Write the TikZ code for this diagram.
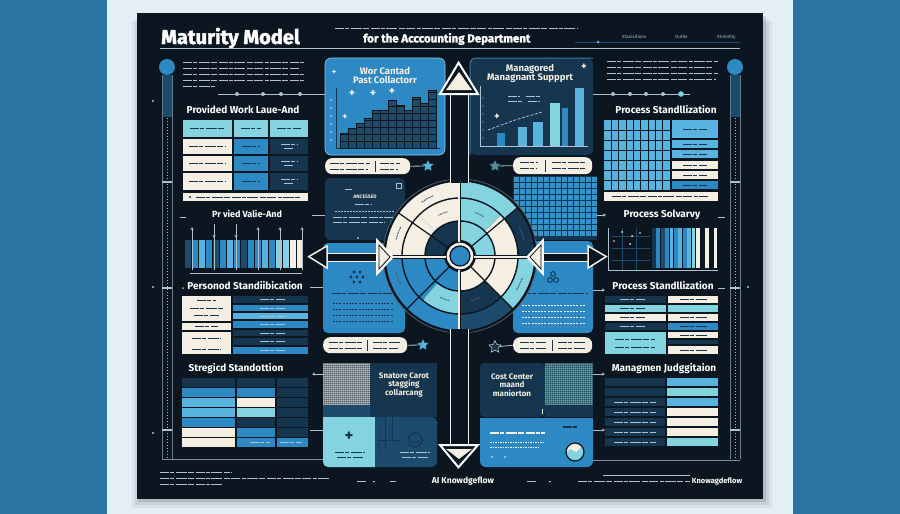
\documentclass[tikz,border=0pt]{standalone}
\usepackage{fontspec}
\setmainfont{Poppins}
\newfontfamily\hfont{Fira Sans}
\newfontfamily\tfont{Fira Sans}[FakeBold=2]
\usetikzlibrary{shapes.geometric,arrows.meta}
\definecolor{sideblue}{HTML}{2B73A1}
\definecolor{pale}{HTML}{E3EEF7}
\definecolor{ink}{HTML}{0B1621}
\definecolor{navy}{HTML}{16354F}
\definecolor{deep}{HTML}{1D4B6E}
\definecolor{mid}{HTML}{2D89C3}
\definecolor{sky}{HTML}{58B4DF}
\definecolor{teal}{HTML}{84D4DF}
\definecolor{cream}{HTML}{F4EFE2}
\definecolor{gibc}{HTML}{AFC0CE}
\definecolor{mesh}{HTML}{8E989C}
\definecolor{meshb}{HTML}{3F7C8C}
\newcommand\ringseg[5]{\fill[#5] (#1:#3) arc[start angle=#1, end angle=#2, radius=#3] -- (#2:#4) arc[start angle=#2, end angle=#1, radius=#4] -- cycle;}
\tikzset{
  gib/.style={line width=1.1pt, draw=gibc, dash pattern=on 9pt off 1.4pt on 4pt off 1.4pt on 11pt off 1.4pt on 6pt off 1.4pt},
  gibd/.style={gib, draw=navy},
  head/.style={text=white, font=\hfont\bfseries\fontsize{10}{11}\selectfont, inner sep=0pt},
  boxt/.style={text=cream, font=\hfont\bfseries\fontsize{9.5}{10}\selectfont, align=center, inner sep=0pt},
  tiny/.style={text=gibc, font=\hfont\fontsize{4.5}{5}\selectfont, inner sep=0pt},
  starn/.style={star, star points=5, star point ratio=2.1, minimum size=13pt, inner sep=0pt, draw=ink, line width=0.4pt},
  conn/.style={draw=gibc, line width=0.8pt},
  arr/.style={conn, -{Stealth[length=3pt,width=3pt]}},
  gridl/.style={draw=ink, line width=0.9pt},
}
\begin{document}
\begin{tikzpicture}[x=1pt,y=-1pt]
\useasboundingbox (0,0) rectangle (900,514);
% ---------- background ----------
\fill[pale] (0,0) rectangle (900,514);
\fill[sideblue] (0,0) rectangle (107,514);
\fill[sideblue] (793,0) rectangle (900,514);
\foreach \o/\op in {9/0.05,6/0.07,3/0.1}{
  \fill[black, opacity=\op] (141-\o,13+\o) rectangle (763+\o,499+\o);
}
\fill[ink] (137,13) rectangle (763,499);

% ---------- header ----------
\node[anchor=base west, text=white, font=\tfont\bfseries\fontsize{20}{22}\selectfont, inner sep=0pt] (title) at (161,44) {Maturity Model};
\draw[gibc, line width=0.7pt] (160,48) -- (740,48);
\draw[gib, line width=0.7pt] (335,28) -- (577,28);
\node[anchor=west, text=white, font=\tfont\bfseries\fontsize{11.5}{13}\selectfont, inner sep=0pt] (subtitle) at (363,39) {for the Acccounting Department};
\draw[deep, line width=0.8pt] (575,42) -- (740,42);
\fill[sky] (598,42) circle (1.5);
\node[tiny, anchor=west] (lab1) at (622,37) {Stanisitions};
\node[tiny, anchor=west] (lab2) at (675,37) {Outlie};
\node[tiny, anchor=west] (lab3) at (717,37) {Stirenfity};

% ---------- side tracks ----------
\foreach \tx in {167,735}{
  \fill[mid] (\tx,67) circle (8);
  \fill[deep] (\tx-5,75) rectangle (\tx+5,117);
  \draw[gibc!60!ink, line width=0.6pt] (\tx-5,75) -- (\tx-5,459) (\tx+5,75) -- (\tx+5,459);
  \draw[gibc, line width=0.6pt, dash pattern=on 0.8pt off 2.2pt] (\tx,118) -- (\tx,459);
  \foreach \dy in {182,288,430}{\draw[gibc, line width=1.6pt] (\tx-5,\dy) -- (\tx+5,\dy);}
}
\draw[gibc!70!ink, line width=0.7pt] (162,459) -- (323,459);
\draw[gibc!70!ink, line width=0.7pt] (593,460) -- (740,460);
\foreach \p in {(153,101),(153,287),(153,433),(748,287)}{\fill[gibc] \p circle (1.1);}

% ---------- left column ----------
\foreach \y/\xe in {62/305,68/300,74/305,80/305,86/215}{\draw[gib, line width=0.8pt] (183,\y) -- (\xe,\y);}
\coordinate (tlA) at (218,94);
\coordinate (tlB) at (325,94);
\draw[conn] (tlA) -- (tlB);
\foreach \xx in {237,263,281,300}{\fill[gibc] (\xx,94) circle (2);}
\node[head] (h1) at (243,110) {Provided Work Laue-And};
\foreach \xa/\xb in {183/232,234/268,270/308}{
  \fill[teal] (\xa,120) rectangle (\xb,137);
  \draw[gibd, line width=0.9pt] (\xa+7,128.5) -- (\xb-7,128.5);
}
\foreach \ya/\yb/\ym in {139/154/146.5,156/171/163.5,173/190/181.5}{
  \fill[cream] (183,\ya) rectangle (232,\yb);
  \fill[mid] (234,\ya) rectangle (268,\yb);
  \fill[navy] (270,\ya) rectangle (308,\yb);
  \draw[gibd, line width=0.9pt] (189,\ym) -- (226,\ym);
  \draw[gibd, line width=0.9pt] (242,\ym) -- (260,\ym);
  \draw[gib, line width=0.7pt] (281,\ym-2) -- (297,\ym-2) (284,\ym+2) -- (294,\ym+2);
}
\fill[cream] (183,193) rectangle (308,201);
\fill[navy] (190,197) circle (1.2);
\draw[gibd, line width=0.6pt] (196,197) -- (300,197);

\draw[gibc, line width=0.9pt] (180,217) -- (186,217);
\node[head, font=\hfont\bfseries\fontsize{9}{10}\selectfont] (h2) at (247,214) {Pr vied Valie-And};
\foreach \c [count=\i from 0] in {deep,mid,sky,mid,deep,mid,sky,mid,deep,mid,mid,sky,mid,teal,teal,cream,cream}{
  \fill[\c] (185+7*\i,240) rectangle (190.5+7*\i,268);
}
\foreach \xx in {192,258,280,302}{\draw[arr] (\xx,270) -- (\xx,227);}
\foreach \xx in {214,236}{\draw[conn] (\xx,224) -- (\xx,270); \draw[arr] (\xx,224) -- (\xx,238);}
\draw[conn] (190,273) -- (302,273);

\fill[gibc] (183,288) circle (1);
\node[head] (h3) at (245,286) {Personod Standiibication};
\fill[cream] (182,296) rectangle (231,321);
\fill[cream] (182,323) rectangle (231,330);
\fill[cream] (182,332) rectangle (231,354);
\foreach \y/\a/\b in {300/197/216, 308/190/223, 315/194/219, 326/195/218, 338/192/221, 349/192/221}{\draw[gibd, line width=0.9pt] (\a,\y) -- (\b,\y);}
\foreach \ya/\yb/\ym/\c in {296/303/299.5/navy, 305/311/308/mid, 313/319/316/sky, 321/328/324.5/mid, 330/336/333/navy, 338/345/341.5/navy, 347/354/350.5/mid}{
  \fill[\c] (233,\ya) rectangle (308,\yb);
  \draw[gib, line width=0.7pt] (260,\ym) -- (285,\ym);
}

\node[head] (h4) at (236,369) {Stregicd Standottion};
\foreach \ya/\yb/\ca/\cb/\cc in {378/386.5/navy/navy/navy, 388/396.5/mid/mid/navy, 398/406.5/sky/cream/navy, 408/416.5/sky/teal/navy, 418/426.5/mid/navy/navy, 428/436.5/cream/mid/navy, 438/447/cream/mid/mid}{
  \fill[\ca] (182,\ya) rectangle (235,\yb);
  \fill[\cb] (237,\ya) rectangle (275,\yb);
  \fill[\cc] (277,\ya) rectangle (308,\yb);
}
\draw[gib, line width=0.7pt] (250,442.5) -- (270,442.5) (280,442.5) -- (302,442.5);

% connectors left tables -> centre boxes
\coordinate (lcA1) at (310,287); \coordinate (lcB1) at (323,287);
\coordinate (lcA2) at (323,374); \coordinate (lcB2) at (312,374);
\coordinate (lcA3) at (310,430); \coordinate (lcB3) at (323,430);
\coordinate (lcA4) at (312,215); \coordinate (lcB4) at (325,215);
\draw[conn] (lcA1) -- (lcB1);
\draw[arr] (lcA2) -- (lcB2);
\draw[conn] (lcA3) -- (lcB3);
\draw[conn] (lcA4) -- (lcB4);

% ---------- right column ----------
\foreach \y/\xe in {61/718,67/712,73/718,79/716}{\draw[gib, line width=0.8pt] (607,\y) -- (\xe,\y);}
\coordinate (trA) at (593,94);
\coordinate (trB) at (690,94);
\draw[conn] (trA) -- (trB);
\foreach \xx in {613,630,646,663}{\fill[gibc] (\xx,94) circle (2);}
\fill[teal] (681,94) circle (2.8);
\node[head] (h5) at (666,110) {Process Standllization};
\fill[sky] (604,120) rectangle (670,190);
\foreach \i in {1,...,8}{\draw[gridl] (604+7.33*\i,120) -- (604+7.33*\i,190);}
\foreach \j in {1,...,6}{\draw[gridl] (604,120+10*\j) -- (670,120+10*\j);}
\foreach \ya/\yb/\ym/\c in {120/138/129/sky, 140/148/144/sky, 150/158/154/sky, 161/169/165/cream, 171/179/175/cream, 181/189/185/mid}{
  \fill[\c] (672,\ya) rectangle (718,\yb);
  \draw[gibd, line width=0.8pt] (683,\ym) -- (707,\ym);
}
\fill[cream] (604,192) rectangle (718,201);
\draw[gibd, line width=0.6pt] (612,196.5) -- (708,196.5);

\node[head] (h6) at (662,215) {Process Solvarvy};
\draw[gibc, line width=0.9pt] (718,217) -- (725,217);
\draw[deep, line width=0.4pt] (612,236) -- (650,236) (612,248) -- (650,248) (612,260) -- (650,260) (622,228) -- (622,270) (636,228) -- (636,270);
\draw[gibc, line width=0.6pt] (608,228) -- (608,270) -- (718,270);
\fill[cream] (622,232) circle (1) (632,236) circle (1) (630,244) circle (1) (614,241) circle (0.8) (640,233) circle (0.8);
\foreach \c [count=\i from 0] in {navy,mid,deep,mid,sky,mid,sky,mid,sky,teal,cream,ink,cream,ink,cream}{
  \fill[\c] (652+4.4*\i,228) rectangle (655.8+4.4*\i,268);
}

\node[head] (h7) at (663,286) {Process Standllization};
\draw[gibc, line width=0.9pt] (718,288) -- (725,288);
\fill[navy] (605,296) rectangle (666,303); \fill[cream] (668,296) rectangle (718,303);
\fill[teal] (605,305) rectangle (666,312); \fill[teal] (668,305) rectangle (718,312);
\fill[cream] (605,314) rectangle (666,321); \fill[cream] (668,314) rectangle (718,321);
\fill[navy] (605,323) rectangle (666,330); \fill[mid] (668,323) rectangle (718,330);
\fill[teal] (605,332) rectangle (666,354);
\fill[cream] (668,332) rectangle (718,338); \fill[navy] (668,340) rectangle (718,344); \fill[cream] (668,346) rectangle (718,354);
\draw[gib, line width=0.7pt] (620,299.5) -- (645,299.5) (620,326.5) -- (645,326.5);
\draw[gibd, line width=0.7pt] (620,308.5) -- (645,308.5) (620,317.5) -- (645,317.5) (615,339) -- (655,339) (615,347) -- (655,347)
  (680,299.5) -- (708,299.5) (680,317.5) -- (708,317.5) (680,326.5) -- (708,326.5) (680,335) -- (708,335) (680,350) -- (708,350);

\node[head] (h8) at (664,369) {Managmen Judggitaion};
\foreach \ya/\yb/\c in {378/386/sky, 388/396/teal, 398/406/sky, 408/416/cream, 418/426/cream, 428/436/cream, 438/446/teal}{
  \fill[navy] (605,\ya) rectangle (665,\yb);
  \fill[\c] (667,\ya) rectangle (718,\yb);
}
\foreach \ym in {402,412,422,432,442}{\draw[gib, line width=0.8pt] (614,\ym) -- (656,\ym);}

% connectors centre boxes -> right tables
\coordinate (rcA1) at (593,290); \coordinate (rcB1) at (605,290);
\coordinate (rcA2) at (593,374); \coordinate (rcB2) at (605,374);
\coordinate (rcA3) at (593,430); \coordinate (rcB3) at (605,430);
\coordinate (rcA4) at (597,215); \coordinate (rcB4) at (606,215);
\draw[arr] (rcA1) -- (rcB1);
\draw[arr] (rcA2) -- (rcB2);
\draw[arr] (rcA3) -- (rcB3);
\draw[arr] (rcA4) -- (rcB4);

% ---------- centre-left boxes ----------
\fill[mid, rounded corners=6pt] (325,58) rectangle (445,155);
\draw[sky!70!white, line width=0.6pt, rounded corners=6pt] (325,58) rectangle (445,155);
\node[boxt] (b1t) at (385,75) {Wor Cantad\\[-1pt]Past Collactorr};
\draw[navy, line width=0.8pt] (336,88) -- (336,148) -- (440,148);
\foreach \yy in {100,108,...,140}{\fill[cream] (331,\yy) circle (0.8);}
\foreach \xa/\h in {340/133, 348/128, 356/123, 364/118, 372/110, 380/110, 388/100, 396/105, 404/110, 412/97, 420/103, 428/90}{
  \fill[deep] (\xa,\h) rectangle (\xa+8,148);
  \draw[ink, line width=0.6pt] (\xa,\h) rectangle (\xa+8,148);
  \foreach \yy in {141,134,127,120,113,106,99,92}{\ifdim \yy pt>\h pt \draw[ink, line width=0.6pt] (\xa,\yy) -- (\xa+8,\yy);\fi}
}
\node[text=cream, font=\bfseries\fontsize{10}{10}\selectfont, inner sep=0pt] (pl1) at (352,93) {+};
\node[text=cream, font=\bfseries\fontsize{10}{10}\selectfont, inner sep=0pt] (pl2) at (373,93) {+};
\node[text=cream, font=\bfseries\fontsize{10}{10}\selectfont, inner sep=0pt] (pl3) at (392,91) {+};
\node[text=cream, font=\bfseries\fontsize{8}{8}\selectfont, inner sep=0pt] (pl4) at (345,117) {+};
\node[text=cream, font=\bfseries\fontsize{7}{7}\selectfont, inner sep=0pt] (pl5) at (334,72) {+};

\node[fill=cream, rounded corners=7pt, minimum width=85pt, minimum height=16pt, inner sep=0pt, anchor=north west] (pillL1) at (325,158) {};
\draw[gibd, line width=0.9pt] (330,163) -- (370,163) (330,169) -- (368,169) (380,163) -- (400,163) (380,169) -- (398,169);
\draw[navy, line width=0.6pt] (375,161) -- (375,172);
\node[starn, fill=sky] (starL1) at (428,166) {};
\draw[conn] (pillL1.east) -- (starL1);

\fill[navy, rounded corners=5pt] (325,178) rectangle (405,240);
\draw[gibc, line width=0.5pt] (396,183) rectangle (401,188);
\node[tiny, text=cream, font=\hfont\bfseries\fontsize{5}{6}\selectfont] (anc) at (365,197) {ANCESSED};
\draw[gib, line width=0.8pt] (345,189) -- (352,189) (355,204) -- (372,204);
\draw[gib, line width=0.6pt, dash pattern=on 1.5pt off 1.5pt] (335,211) -- (395,211);
\draw[gib, line width=0.8pt] (333,217) -- (398,217) (333,222) -- (385,222);
\fill[cream] (358,238) circle (0.9);

\fill[mid, rounded corners=5pt] (323,243) rectangle (405,333);
\foreach \p in {(354,272),(360,272),(351,277),(357,277),(363,277),(354,282),(360,282)}{\fill[navy] \p circle (1.6);}
\draw[gibd, line width=0.9pt] (332,293) -- (392,293);
\foreach \yy in {303,309,315,321}{\draw[navy, line width=1pt, dash pattern=on 2pt off 1.2pt] (333,\yy) -- (393,\yy);}

\node[fill=cream, rounded corners=7pt, minimum width=84pt, minimum height=16pt, inner sep=0pt, anchor=north west] (pillL2) at (323,337) {};
\draw[gibd, line width=0.9pt] (329,342) -- (362,342) (329,348) -- (362,348) (373,342) -- (400,342) (373,348) -- (398,348);
\draw[navy, line width=0.6pt] (367,340) -- (367,351);
\node[starn, fill=sky] (starL2) at (423,345) {};
\draw[conn] (pillL2.east) -- (starL2);

\fill[mesh] (323,363) rectangle (370,405);
\foreach \i in {0,2,...,46}{\draw[white, opacity=0.35, line width=0.4pt] (323+\i,363) -- (323+\i,405);}
\foreach \i in {0,2,...,42}{\draw[ink, opacity=0.35, line width=0.4pt] (323,363+\i) -- (370,363+\i);}
\fill[deep] (323,405) rectangle (370,417);
\fill[navy] (370,363) rectangle (437,417);
\node[boxt, font=\hfont\bfseries\fontsize{8}{8.5}\selectfont] (b3t) at (404,385) {Snatore Carot\\stagging\\collarcang};

\fill[teal, rounded corners=5pt] (323,417) rectangle (380,467);
\fill[teal] (323,417) rectangle (380,440);
\fill[teal] (360,417) rectangle (380,467);
\fill[deep, rounded corners=5pt] (375,417) rectangle (437,467);
\fill[deep] (375,417) rectangle (400,467);
\draw[navy, line width=1pt] (385,417) -- (385,450) (392,417) -- (392,440) (378,440) -- (400,440);
\draw[navy, line width=1.2pt] (415,440) circle (7);
\draw[navy, line width=0.8pt] (411,441) .. controls (413,444) and (417,444) .. (419,440);
\node[text=navy, font=\bfseries\fontsize{14}{14}\selectfont, inner sep=0pt] (plus4) at (349,436) {+};
\draw[gibd, line width=0.9pt] (335,452) -- (365,452) (337,457) -- (363,457);
\draw[gib, line width=0.9pt] (400,452) -- (430,452) (402,457) -- (428,457);
\draw[navy, line width=0.5pt, dash pattern=on 1pt off 1pt] (379,425) -- (379,460);

% ---------- centre-right boxes ----------
\fill[navy, rounded corners=6pt] (470,58) rectangle (593,155);
\draw[sky!55!navy, line width=1pt, rounded corners=6pt] (470,155) -- (470,58) -- (593,58);
\node[boxt] (b2t) at (530,73) {Managored\\[-1pt]Managnant Suppprt};
\draw[gibc, line width=0.7pt] (480,86) -- (480,146) -- (588,146);
\foreach \yy in {98,106,...,138}{\fill[gibc] (483,\yy) circle (0.7);}
\foreach \xa/\xb/\h/\c in {497/505/133/mid, 518/527/127/sky, 533/543/122/sky, 550/560/103/teal, 562/568/108/mid, 575/584/88/sky}{
  \fill[\c] (\xa,\h) rectangle (\xb,146);
}
\draw[gibc, line width=0.8pt, dash pattern=on 3pt off 1.5pt] (488,130) -- (515,120) -- (542,112);
\draw[gib, line width=0.8pt] (508,96) -- (520,96) (526,96) -- (540,96) (508,101) -- (522,101) (528,101) -- (540,101);
\node[text=cream, font=\bfseries\fontsize{9}{9}\selectfont, inner sep=0pt] (pl6) at (497,117) {+};
\node[text=cream, font=\bfseries\fontsize{9}{9}\selectfont, inner sep=0pt] (pl7) at (584,67) {+};

\node[starn, fill=teal!55!navy] (starR1) at (495,166) {};
\node[fill=cream, rounded corners=7pt, minimum width=79pt, minimum height=17pt, inner sep=0pt, anchor=north west] (pillR1) at (513,157) {};
\draw[conn] (starR1) -- (pillR1.west);
\draw[gibd, line width=0.9pt] (520,162) -- (538,162) (520,168) -- (536,168) (552,162) -- (585,162) (552,168) -- (585,168);
\draw[navy, line width=0.6pt] (545,160) -- (545,172);

\fill[navy] (513,176) rectangle (597,240);
\foreach \i in {0,...,13}{\foreach \j in {0,...,9}{\fill[mid!80!sky] (514+6*\i,177+6*\j) rectangle (518.5+6*\i,181.5+6*\j);}}

\fill[mid, rounded corners=5pt] (513,241) rectangle (593,333);
\draw[navy, line width=1pt] (550,280) circle (2.4) (556,280) circle (2.4) (553,274) circle (2.4);
\draw[gibd, line width=0.9pt] (522,293) -- (588,293);
\foreach \yy in {305,311,317,323}{\draw[cream, line width=1pt, dash pattern=on 2pt off 1.2pt] (522,\yy) -- (585,\yy);}

\node[starn, fill=navy, draw=cream] (starR2) at (495,347) {};
\node[fill=cream, rounded corners=7pt, minimum width=79pt, minimum height=16pt, inner sep=0pt, anchor=north west] (pillR2) at (513,337) {};
\draw[conn] (starR2) -- (pillR2.west);
\draw[gibd, line width=0.9pt] (520,342) -- (546,342) (520,348) -- (546,348) (558,342) -- (585,342) (558,348) -- (585,348);
\draw[navy, line width=0.6pt] (552,340) -- (552,351);

\fill[navy, rounded corners=4pt] (480,363) rectangle (545,417);
\node[boxt, font=\hfont\bfseries\fontsize{8}{8.5}\selectfont] (b4t) at (512,385) {Cost Center\\maand\\maniorton};
\fill[meshb] (545,363) rectangle (593,405);
\foreach \i in {0,2,...,46}{\draw[white, opacity=0.25, line width=0.4pt] (545+\i,363) -- (545+\i,405);}
\foreach \i in {0,2,...,42}{\draw[ink, opacity=0.35, line width=0.4pt] (545,363+\i) -- (593,363+\i);}
\fill[navy] (545,405) rectangle (593,417);
\draw[cream, line width=0.8pt] (542,409) -- (542,414);
\fill[mid, rounded corners=6pt] (480,418) rectangle (593,467);
\fill[mid] (480,418) rectangle (593,430);
\draw[gib, draw=cream, line width=1.2pt] (490,433) -- (545,433);
\draw[gibd, line width=1.2pt] (563,427) -- (578,427);
\draw[cream, line width=0.7pt, dash pattern=on 1.5pt off 1pt] (490,442) -- (545,442) (490,447) -- (540,447);
\fill[cream] (492,457) circle (0.8) (505,457) circle (0.8);
\fill[cream] (575,452) circle (9);
\begin{scope}
  \clip (575,452) circle (9);
  \fill[teal] (560,459) -- (570,449) -- (576,452) -- (590,440) -- (590,470) -- (560,470) -- cycle;
\end{scope}
\draw[ink, line width=1.2pt] (575,452) circle (9);

% ---------- wheel ----------
\begin{scope}[shift={(460,256)}, yscale=-1]
  \fill[ink] (0,0) circle (77);
  \ringseg{0}{40}{75}{58}{navy}
  \ringseg{40}{90}{75}{58}{teal}
  \ringseg{90}{145}{75}{58}{cream}
  \ringseg{145}{180}{75}{58}{cream}
  \ringseg{180}{225}{75}{58}{mid}
  \ringseg{225}{270}{75}{58}{mid}
  \ringseg{270}{315}{75}{58}{deep}
  \ringseg{315}{360}{75}{58}{teal}
  \ringseg{0}{45}{58}{35}{cream}
  \ringseg{45}{90}{58}{35}{teal}
  \ringseg{90}{135}{58}{35}{cream}
  \ringseg{135}{180}{58}{35}{cream}
  \ringseg{180}{230}{58}{35}{mid}
  \ringseg{230}{270}{58}{35}{teal}
  \ringseg{270}{315}{58}{35}{navy}
  \ringseg{315}{360}{58}{35}{cream}
  \ringseg{0}{90}{35}{16}{teal}
  \ringseg{90}{180}{35}{16}{navy}
  \ringseg{180}{270}{35}{16}{mid}
  \ringseg{270}{360}{35}{16}{cream}
  \foreach \a in {0,40,90,145,180,225,270,315}{\draw[ink, line width=1.2pt] (\a:16) -- (\a:75);}
  \draw[ink, line width=1.4pt] (0,0) circle (75) (0,0) circle (58) (0,0) circle (35);
  \draw[gibc!50!ink, line width=0.6pt] (0,0) circle (77);
  \foreach \a/\r in {120/66, 160/66, 200/66, 20/66, 335/66, 290/46, 250/46, 112/46, 65/46}{
    \draw[navy!70!gibc, line width=0.9pt, dash pattern=on 2pt off 0.8pt] ({\a-6}:\r) arc[start angle=\a-6, end angle=\a+6, radius=\r];
  }
  \fill[cream] (0,0) circle (14);
  \fill[mid] (0,0) circle (10);
  \draw[ink, line width=1.2pt] (0,0) circle (14) (0,0) circle (10);
\end{scope}

% ---------- arrows ----------
\fill[ink] (320,253) rectangle (385,261);
\draw[cream, line width=0.9pt] (320,253) -- (385,253) (320,261) -- (385,261);
\fill[ink] (535,253) rectangle (595,261);
\draw[cream, line width=0.9pt] (535,253) -- (595,253) (535,261) -- (595,261);
\draw[ink, line width=3pt] (390,257) -- (446,257) (474,257) -- (530,257);
\draw[cream, line width=1.1pt] (390,257) -- (446,257) (474,257) -- (530,257);
\fill[ink] (450,92) rectangle (468,183);
\draw[cream, line width=0.9pt] (450,92) -- (450,183) (468,92) -- (468,183);
\fill[ink] (450,329) rectangle (468,447);
\draw[cream, line width=0.9pt] (450,329) -- (450,447) (468,329) -- (468,447);
\draw[ink, line width=3pt] (459,183) -- (459,242) (459,270) -- (459,329);
\draw[cream, line width=1.1pt] (459,183) -- (459,242) (459,270) -- (459,329);
\node[inner sep=0pt] (arrL) at (308,257) {};
\node[inner sep=0pt] (arrR) at (607,257) {};
\node[inner sep=0pt] (arrT) at (459,62) {};
\node[inner sep=0pt] (arrB) at (459,468) {};
\filldraw[fill=ink, draw=cream, line width=1.5pt, line join=miter] (arrL) -- (327,246) -- (327,268) -- cycle;
\filldraw[fill=ink, draw=cream, line width=1.5pt, line join=miter] (arrR) -- (588,246) -- (588,268) -- cycle;
\filldraw[fill=cream, draw=white, line width=1.6pt] (377,240) -- (393,257) -- (377,274) -- cycle;
\draw[ink, line width=0.8pt] (379,245) -- (390,257) -- (379,269) -- cycle;
\filldraw[fill=cream, draw=white, line width=1.6pt] (543,240) -- (527,257) -- (543,274) -- cycle;
\draw[ink, line width=0.8pt] (541,245) -- (530,257) -- (541,269) -- cycle;
\filldraw[fill=ink, draw=white, line width=2pt, line join=miter] (arrT) -- (440,94) -- (478,94) -- cycle;
\fill[cream] (459,72) -- (446,90) -- (472,90) -- cycle;
\filldraw[fill=ink, draw=white, line width=2pt, line join=miter] (arrB) -- (440,445) -- (478,445) -- cycle;
\fill[cream] (459,459) -- (446,449) -- (472,449) -- cycle;

% ---------- footer ----------
\draw[gib, line width=0.9pt, draw=gibc] (160,472) -- (232,472);
\draw[gib, line width=0.6pt] (160,478) -- (330,478) (160,484) -- (222,484);
\draw[gib, line width=0.9pt] (357,481) -- (367,481) (373,481) -- (375,481) (390,481) -- (396,481);
\node[text=white, font=\hfont\bfseries\fontsize{8.5}{9}\selectfont, inner sep=0pt] (foot1) at (463,481) {AI Knowdgeflow};
\draw[gib, line width=0.9pt] (527,481) -- (536,481) (549,481) -- (551,481);
\draw[gibc, line width=0.5pt] (603,475) -- (690,475);
\draw[gib, line width=0.5pt] (578,481) -- (690,481);
\node[text=white, font=\hfont\bfseries\fontsize{7.5}{8}\selectfont, inner sep=0pt] (foot2) at (717,481) {Knowagdeflow};
\end{tikzpicture}
\end{document}
